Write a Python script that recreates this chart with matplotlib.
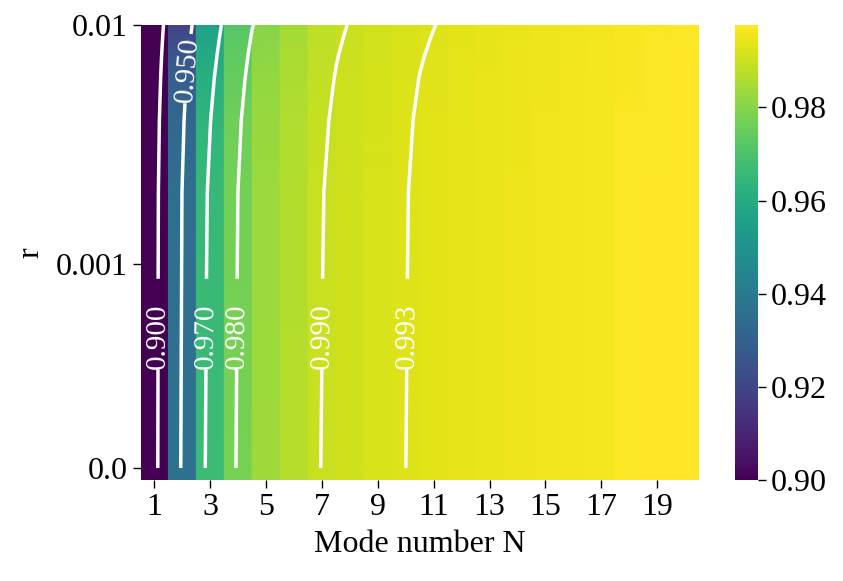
import numpy as np
import matplotlib
matplotlib.use("Agg")
import matplotlib.pyplot as plt
from matplotlib.ticker import NullLocator

plt.rcParams["font.family"] = ["Liberation Serif", "DejaVu Serif"]
plt.rcParams["font.size"] = 23

# mode numbers (columns) and r values (rows)
modes = list(range(1, 21))
r_values = [0.0, 0.002, 0.004, 0.006, 0.0075, 0.009, 0.01]

# fidelity per mode number, one list per r value
fid_r0 = [0.84000, 0.93700, 0.96650, 0.97750, 0.98350, 0.98680, 0.98950, 0.99060, 0.99170, 0.99260,
          0.99340, 0.99400, 0.99460, 0.99510, 0.99560, 0.99610, 0.99650, 0.99710, 0.99740, 0.99770]
fid_r0002 = [0.83733, 0.93544, 0.96552, 0.97698, 0.98317, 0.98658, 0.98935, 0.99050, 0.99162, 0.99252,
             0.99333, 0.99394, 0.99454, 0.99505, 0.99555, 0.99605, 0.99646, 0.99706, 0.99736, 0.99766]
fid_r0004 = [0.83241, 0.93257, 0.96372, 0.97603, 0.98256, 0.98617, 0.98907, 0.99032, 0.99146, 0.99237,
             0.99320, 0.99382, 0.99442, 0.99495, 0.99545, 0.99595, 0.99637, 0.99697, 0.99727, 0.99757]
fid_r0006 = [0.82605, 0.92886, 0.96139, 0.97480, 0.98178, 0.98564, 0.98871, 0.99009, 0.99126, 0.99218,
             0.99303, 0.99367, 0.99427, 0.99482, 0.99532, 0.99582, 0.99627, 0.99687, 0.99717, 0.99747]
fid_r00075 = [0.82050, 0.92563, 0.95935, 0.97373, 0.98110, 0.98518, 0.98840, 0.98989, 0.99108, 0.99202,
              0.99288, 0.99355, 0.99415, 0.99471, 0.99521, 0.99571, 0.99618, 0.99678, 0.99708, 0.99738]
fid_r0009 = [0.81438, 0.92206, 0.95711, 0.97255, 0.98034, 0.98467, 0.98805, 0.98966, 0.99089, 0.99183,
             0.99272, 0.99340, 0.99400, 0.99459, 0.99509, 0.99559, 0.99607, 0.99667, 0.99697, 0.99727]
fid_r001 = [0.81000, 0.91950, 0.95550, 0.97170, 0.97980, 0.98430, 0.98780, 0.98950, 0.99075, 0.99170,
            0.99260, 0.99330, 0.99390, 0.99450, 0.99500, 0.99550, 0.99600, 0.99660, 0.99690, 0.99720]

levels = [0.900, 0.950, 0.970, 0.980, 0.990, 0.993]
ytick_vals = [0.0, 0.001, 0.01]
ytick_labels = ["0.0", "0.001", "0.01"]
cbar_ticks = [0.90, 0.92, 0.94, 0.96, 0.98]

fid = np.array([fid_r0, fid_r0002, fid_r0004, fid_r0006, fid_r00075, fid_r0009, fid_r001])
ncol = len(modes)
r_min = 10 ** -3.8   # last positive row of the original grid

fig = plt.figure(figsize=(8.43, 5.81), dpi=100)
ax = fig.add_axes([0.1667, 0.1738, 0.6625, 0.7832])
cax = fig.add_axes([0.8719, 0.1738, 0.0277, 0.7832])

ax.set_yscale("symlog", linthresh=r_min, linscale=0.045)

# heatmap: blocky in N, smooth in r
xv = np.repeat(np.arange(ncol + 1), 2)[1:-1]
yv = np.array([-r_min] + r_values)
cv = np.repeat(np.vstack([fid[0], fid]), 2, axis=1)
XV, YV = np.meshgrid(xv, yv)
mesh = ax.pcolormesh(XV, YV, cv, shading="gouraud", cmap="viridis",
                     vmin=0.90, vmax=fid.max())

# contours on the cell index grid
XC, YC = np.meshgrid(np.arange(ncol), r_values)
cs = ax.contour(XC, YC, fid, levels=levels, colors="white", linewidths=2.5)
ax.clabel(cs, fmt="%.3f", fontsize=21, inline=True, inline_spacing=3,
          manual=[(0.62, 5e-4), (1.75, 0.0065), (2.35, 5e-4), (3.36, 5e-4),
                  (6.45, 5e-4), (9.5, 5e-4)])

ax.set_xlim(0, ncol)
ax.set_ylim(-r_min, 0.01)
ax.set_xticks(np.arange(0, ncol, 2) + 0.5)
ax.set_xticklabels([str(m) for m in modes[::2]])
ax.set_yticks(ytick_vals)
ax.set_yticklabels(ytick_labels)
ax.yaxis.set_minor_locator(NullLocator())
ax.tick_params(length=5.5, width=1)
for s in ax.spines.values():
    s.set_visible(False)
ax.set_xlabel("Mode number N", labelpad=6)
ax.set_ylabel("r", labelpad=8)

cbar = fig.colorbar(mesh, cax=cax, ticks=cbar_ticks)
cbar.outline.set_visible(False)
cbar.ax.set_yticklabels(["%.2f" % t for t in cbar_ticks])
cbar.ax.tick_params(length=5.5, width=1)
cbar.ax.yaxis.set_minor_locator(NullLocator())

fig.savefig("out.png", dpi=100)
